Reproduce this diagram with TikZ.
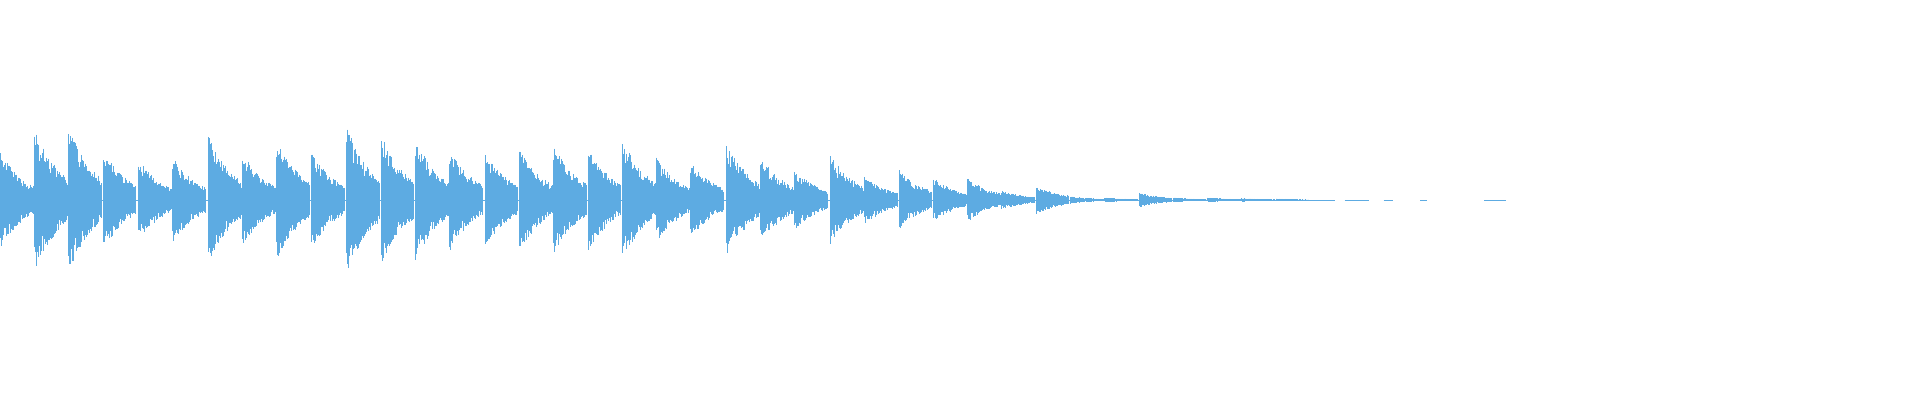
\documentclass[tikz,border=0pt]{standalone}
\definecolor{wave}{RGB}{93,171,226}
\begin{document}
\begin{tikzpicture}[x=1.2245pt,y=1.2245pt,wl/.style={draw=wave,line width=0.5pt}]
\useasboundingbox (0,-163.3) rectangle (1568,163.3);
\pgfmathsetseed{7}
\draw[wave,line width=0.8pt] (0,0) -- (1090,0);
\draw[wave,line width=0.6pt] (1098,0) -- (1118,0) (1130,0) -- (1138,0) (1160,0) -- (1165,0) (1212,0) -- (1230,0);
\foreach \x/\A in {0/40,28/60,56/60,84/42,113/33,141/35,170/53,198/38,226/50,254/40,283/60,311/53,339/50,367/42,396/40,424/43,452/45,480/43,508/50,536/35,564/32,593/47,621/37,649/25,678/37,706/20,734/25,762/18,790/18,818/8,846/12,874/3,902/2,930/6,958/2,986/2,1014/1.5,1042/1.2}{
  \foreach \i in {0,0.4,...,27}{
    \pgfmathsetmacro{\u}{\A*exp(-\i/22)*(0.6+0.4*rnd)}
    \pgfmathsetmacro{\d}{\A*exp(-\i/22)*(0.6+0.4*rnd)}
    \draw[wl] (\x+\i,\u) -- (\x+\i,-\d);
  }
}
\end{tikzpicture}
\end{document}
